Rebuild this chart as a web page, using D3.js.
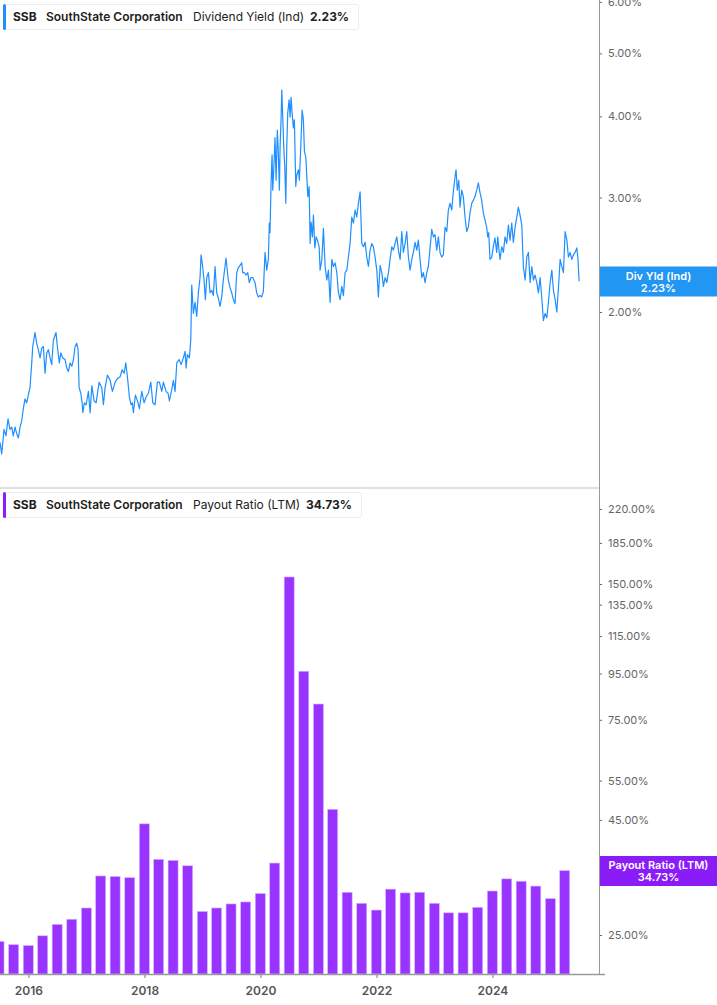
<!DOCTYPE html>
<html>
<head>
<meta charset="utf-8">
<script src="https://cdn.jsdelivr.net/npm/d3@7/dist/d3.min.js"></script>
<style>
  html, body { margin: 0; padding: 0; background: #fff; }
  svg { display: block; font-family: Inter, Roboto, "Noto Sans", sans-serif; }
</style>
</head>
<body>
<div class="chart"></div>
<script>
// dividend yield (ind), %, time as decimal years
const yieldYears = [
  2015.510,2015.539,2015.579,2015.613,2015.648,2015.682,2015.712,2015.739,2015.769,2015.798,2015.826,2015.855,2015.884,2015.912,2015.941,2015.970,2015.998,
  2016.027,2016.057,2016.074,2016.113,2016.143,2016.170,2016.200,2016.229,2016.257,2016.286,2016.315,2016.343,2016.372,2016.401,2016.429,2016.475,2016.498,
  2016.532,2016.557,2016.591,2016.631,2016.660,2016.688,2016.717,2016.746,2016.774,2016.803,2016.832,2016.855,2016.872,2016.901,2016.924,2016.936,2016.963,2016.993,
  2017.032,2017.062,2017.091,2017.131,2017.165,2017.217,2017.263,2017.291,2017.320,2017.360,2017.407,2017.446,2017.493,2017.533,2017.579,2017.613,2017.648,
  2017.677,2017.705,2017.739,2017.769,2017.791,2017.808,2017.843,2017.878,2017.912,2017.953,2017.993,
  2018.027,2018.067,2018.108,2018.143,2018.182,2018.222,2018.257,2018.298,2018.325,2018.372,2018.407,2018.429,2018.470,2018.498,2018.527,2018.557,2018.596,
  2018.631,2018.670,2018.700,2018.717,2018.739,2018.774,2018.798,2018.815,2018.843,2018.872,2018.901,2018.929,2018.958,2018.976,
  2019.005,2019.027,2019.050,2019.074,2019.102,2019.131,2019.160,2019.188,2019.217,2019.246,2019.274,2019.303,2019.332,2019.360,2019.406,2019.446,2019.475,
  2019.505,2019.533,2019.562,2019.591,2019.619,2019.648,2019.677,2019.695,2019.722,2019.751,2019.781,2019.808,2019.838,2019.867,2019.907,2019.936,2019.963,2019.993,
  2020.022,2020.050,2020.079,2020.108,2020.136,2020.153,2020.165,2020.183,2020.200,2020.212,2020.234,2020.251,2020.269,2020.291,2020.308,2020.326,2020.338,
  2020.355,2020.367,2020.384,2020.401,2020.419,2020.436,2020.453,2020.470,2020.493,2020.510,2020.527,2020.544,2020.567,2020.584,2020.608,2020.625,2020.653,
  2020.670,2020.694,2020.717,2020.739,2020.757,2020.781,2020.798,2020.815,2020.838,2020.855,2020.872,2020.894,2020.912,2020.936,2020.958,2020.981,
  2021.010,2021.027,2021.057,2021.084,2021.113,2021.143,2021.170,2021.200,2021.229,2021.257,2021.286,2021.315,2021.343,2021.372,2021.401,2021.429,2021.458,
  2021.488,2021.515,2021.544,2021.573,2021.601,2021.631,2021.660,2021.687,2021.717,2021.746,2021.774,2021.803,2021.832,2021.860,2021.889,2021.919,2021.946,2021.975,
  2022.005,2022.032,2022.062,2022.091,2022.119,2022.148,2022.177,2022.205,2022.234,2022.263,2022.291,2022.320,2022.350,2022.377,2022.407,2022.436,2022.463,
  2022.493,2022.522,2022.550,2022.579,2022.608,2022.636,2022.665,2022.694,2022.722,2022.751,2022.781,2022.808,2022.838,2022.867,2022.894,2022.924,2022.953,2022.981,
  2023.010,2023.039,2023.067,2023.096,2023.125,2023.153,2023.182,2023.212,2023.239,2023.268,2023.298,2023.325,2023.355,2023.372,2023.394,2023.419,2023.441,
  2023.470,2023.498,2023.527,2023.556,2023.584,2023.613,2023.643,2023.670,2023.699,2023.729,2023.757,2023.786,2023.815,2023.843,2023.872,2023.901,2023.919,2023.936,
  2023.958,2023.988,2024.015,2024.044,2024.074,2024.091,2024.113,2024.131,2024.160,2024.188,2024.217,2024.246,2024.274,2024.303,2024.332,2024.360,2024.389,
  2024.419,2024.446,2024.475,2024.505,2024.532,2024.562,2024.591,2024.619,2024.648,2024.677,2024.705,2024.734,2024.763,2024.791,2024.820,2024.849,2024.877,
  2024.906,2024.936,2024.963,2024.993,2025.022,2025.050,2025.079,2025.108,2025.136,2025.165,2025.194,2025.222,2025.251,2025.281,2025.308,2025.337,2025.367,
  2025.394,2025.424,2025.453,2025.470,2025.493
];
const yieldValues = [
  1.26,1.21,1.32,1.29,1.37,1.32,1.33,1.29,1.33,1.30,1.28,1.33,1.36,1.42,1.47,1.45,1.49,
  1.53,1.67,1.77,1.86,1.79,1.75,1.70,1.76,1.77,1.61,1.73,1.75,1.70,1.66,1.81,1.86,1.77,
  1.67,1.73,1.70,1.69,1.64,1.62,1.67,1.65,1.69,1.77,1.79,1.75,1.53,1.50,1.45,1.40,1.45,1.44,
  1.51,1.40,1.54,1.46,1.45,1.56,1.53,1.44,1.53,1.60,1.57,1.51,1.56,1.58,1.59,1.63,1.61,
  1.67,1.59,1.48,1.44,1.45,1.40,1.49,1.46,1.42,1.51,1.45,
  1.48,1.50,1.56,1.45,1.44,1.56,1.56,1.51,1.56,1.51,1.50,1.46,1.52,1.57,1.51,1.67,1.69,
  1.66,1.70,1.74,1.64,1.72,1.70,1.81,2.20,1.99,2.07,1.97,2.14,2.26,2.45,
  2.34,2.24,2.09,2.26,2.30,2.14,2.16,2.12,2.35,2.14,2.10,2.04,2.11,2.24,2.42,2.24,2.18,
  2.14,2.09,2.06,2.30,2.34,2.36,2.38,2.30,2.30,2.28,2.30,2.22,2.26,2.26,2.22,2.14,2.11,2.12,
  2.11,2.15,2.47,2.32,2.41,2.74,2.65,3.16,3.49,3.08,3.39,3.71,3.19,3.81,3.51,3.08,3.59,
  3.95,4.39,3.99,3.59,3.34,2.94,3.59,4.05,4.24,3.99,4.28,4.06,3.84,3.95,3.12,3.25,3.31,
  3.19,3.59,4.09,3.95,3.53,3.46,3.23,3.01,3.12,2.55,2.75,2.61,2.82,2.51,2.61,2.58,
  2.52,2.32,2.41,2.69,2.35,2.24,2.32,2.07,2.41,2.35,2.38,2.30,2.14,2.09,2.19,2.12,2.30,
  2.32,2.43,2.55,2.80,2.74,2.87,2.80,2.94,3.06,2.55,2.52,2.56,2.43,2.35,2.49,2.55,2.52,2.43,
  2.32,2.11,2.36,2.30,2.19,2.26,2.22,2.30,2.41,2.52,2.49,2.55,2.61,2.49,2.41,2.66,2.47,
  2.55,2.66,2.43,2.32,2.41,2.47,2.56,2.49,2.58,2.41,2.26,2.30,2.22,2.30,2.35,2.51,2.68,2.61,
  2.63,2.49,2.61,2.47,2.43,2.45,2.70,2.66,2.87,2.94,2.87,3.06,3.23,3.31,3.08,3.19,2.90,
  3.08,3.01,2.80,2.66,2.70,2.84,2.94,2.97,3.01,3.08,3.16,3.05,2.97,2.84,2.77,2.70,2.61,2.65,
  2.41,2.43,2.52,2.60,2.47,2.61,2.49,2.41,2.52,2.47,2.61,2.55,2.72,2.58,2.74,2.56,2.70,
  2.80,2.90,2.82,2.72,2.35,2.24,2.43,2.47,2.22,2.35,2.24,2.28,2.22,2.14,2.26,2.10,1.94,
  1.99,1.96,2.07,2.22,2.32,2.16,2.09,2.00,2.18,2.41,2.35,2.30,2.66,2.58,2.43,2.47,2.41,
  2.45,2.47,2.51,2.43,2.23
];

// payout ratio (LTM), %, quarterly
const payoutQuarters = [
  '2015-06-30','2015-09-30','2015-12-31',
  '2016-03-31','2016-06-30','2016-09-30','2016-12-31',
  '2017-03-31','2017-06-30','2017-09-30','2017-12-31',
  '2018-03-31','2018-06-30','2018-09-30','2018-12-31',
  '2019-03-31','2019-06-30','2019-09-30','2019-12-31',
  '2020-03-31','2020-06-30','2020-09-30','2020-12-31',
  '2021-03-31','2021-06-30','2021-09-30','2021-12-31',
  '2022-03-31','2022-06-30','2022-09-30','2022-12-31',
  '2023-03-31','2023-06-30','2023-09-30','2023-12-31',
  '2024-03-31','2024-06-30','2024-09-30','2024-12-31',
  '2025-03-31'
];
const payoutValues = [
  24.2,23.8,23.7,
  24.9,26.4,27.1,28.7,
  33.8,33.7,33.5,44.1,
  36.8,36.6,35.6,28.2,
  28.7,29.3,29.6,30.9,
  36.1,155.5,96.1,81.3,
  47.5,31.1,29.4,28.4,
  31.6,31.0,31.1,29.4,
  28.0,28.0,28.8,31.3,
  33.3,32.9,32.1,30.1,
  34.73
];

const yieldTicks = [2, 3, 4, 5, 6];
const payoutTicks = [25, 35, 45, 55, 75, 95, 115, 135, 150, 185, 220];
const xTickYears = [2016, 2018, 2020, 2022, 2024];

const ticker = 'SSB', company = 'SouthState Corporation';
const yieldName = 'Dividend Yield (Ind)', yieldTag = 'Div Yld (Ind)';
const payoutName = 'Payout Ratio (LTM)';

function createGraph() {
  const w = 717, h = 1005;
  const plotRight = 599;
  const topBottom = 487, botTop = 490, botBottom = 974;
  const blue = '#1e8fff', purple = '#9933ff';

  const parseDate = d3.timeParse('%Y-%m-%d');
  function yearToDate(y) {
    const yr = Math.floor(y);
    const a = new Date(yr, 0, 1), b = new Date(yr + 1, 0, 1);
    return new Date(+a + (y - yr) * (b - a));
  }
  const lineData = yieldYears.map((t, i) => ({ date: yearToDate(t), value: yieldValues[i] }));
  const barData = payoutQuarters.map((q, i) => ({ date: parseDate(q), value: payoutValues[i] }));

  const xScale = d3.scaleTime()
    .domain([new Date(2015, 6, 6), new Date(2025, 10, 2)])
    .range([0, plotRight]);

  const yTop = d3.scaleLog().domain([1.0761, 6.04]).range([topBottom, 0]);
  const yBot = d3.scaleLog().domain([20.49, 242.4]).range([botBottom, botTop]);

  const svg = d3.select('.chart').append('svg')
    .attr('width', w)
    .attr('height', h);

  svg.append('clipPath').attr('id', 'clipTop')
    .append('rect').attr('x', 0).attr('y', 0).attr('width', plotRight).attr('height', topBottom);
  svg.append('clipPath').attr('id', 'clipBot')
    .append('rect').attr('x', 0).attr('y', botTop).attr('width', plotRight).attr('height', botBottom - botTop);

  // panel separator
  svg.append('line')
    .attr('x1', 0).attr('x2', plotRight)
    .attr('y1', topBottom + 1).attr('y2', topBottom + 1)
    .attr('stroke', '#e0e0e0').attr('stroke-width', 2);

  // ------- yield line
  const lineFunc = d3.line()
    .x(d => xScale(d.date))
    .y(d => yTop(d.value));

  svg.append('path')
    .attr('clip-path', 'url(#clipTop)')
    .attr('d', lineFunc(lineData))
    .attr('fill', 'none')
    .attr('stroke', blue)
    .attr('stroke-width', 1.2)
    .attr('stroke-linejoin', 'round');

  // ------- payout bars
  const barW = 10;
  svg.append('g').attr('clip-path', 'url(#clipBot)')
    .selectAll('rect')
    .data(barData)
    .enter()
    .append('rect')
      .attr('x', d => xScale(d.date) - barW / 2)
      .attr('y', d => yBot(d.value))
      .attr('width', barW)
      .attr('height', d => botBottom - yBot(d.value))
      .attr('fill', purple)
      .attr('stroke', '#d6b5ff')
      .attr('stroke-width', 0.6);

  // ------- axes
  const pctFmt = v => d3.format('.2f')(v) + '%';

  const yAxisTop = svg.append('g')
    .attr('transform', 'translate(' + plotRight + ',0)')
    .call(d3.axisRight(yTop).tickValues(yieldTicks).tickFormat(pctFmt).tickSize(3).tickPadding(6));
  const yAxisBot = svg.append('g')
    .attr('transform', 'translate(' + plotRight + ',0)')
    .call(d3.axisRight(yBot).tickValues(payoutTicks).tickFormat(pctFmt).tickSize(3).tickPadding(6));
  [yAxisTop, yAxisBot].forEach(g => {
    g.select('.domain').remove();
    g.selectAll('line').attr('stroke', '#666');
    g.selectAll('text')
      .attr('fill', '#666')
      .style('font-size', '11px')
      .style('font-family', 'Inter, Roboto, sans-serif');
  });

  const xAxis = svg.append('g')
    .attr('transform', 'translate(0,' + botBottom + ')')
    .call(d3.axisBottom(xScale)
      .tickValues(xTickYears.map(y => new Date(y, 0, 1)))
      .tickFormat(d3.timeFormat('%Y'))
      .tickSize(4).tickPadding(8));
  xAxis.select('.domain').remove();
  xAxis.selectAll('line').attr('stroke', '#777');
  xAxis.selectAll('text')
    .attr('fill', '#555')
    .style('font-size', '12px')
    .style('font-weight', 600)
    .style('font-family', 'Inter, Roboto, sans-serif');

  // axis frame lines
  svg.append('line')
    .attr('x1', plotRight + 0.5).attr('x2', plotRight + 0.5)
    .attr('y1', 0).attr('y2', botBottom + 1)
    .attr('stroke', '#9a9a9a').attr('stroke-width', 1);
  svg.append('line')
    .attr('x1', 0).attr('x2', plotRight + 6)
    .attr('y1', botBottom + 0.5).attr('y2', botBottom + 0.5)
    .attr('stroke', '#9a9a9a').attr('stroke-width', 1.5);

  // ------- legends
  function legend(y0, color, name, value, boxW) {
    const g = svg.append('g').attr('transform', 'translate(3,' + y0 + ')');
    g.append('rect')
      .attr('x', 0.5).attr('y', 0.5).attr('width', boxW).attr('height', 25).attr('rx', 2)
      .attr('fill', '#fff').attr('stroke', '#ececec');
    g.append('rect')
      .attr('x', 0).attr('y', 0).attr('width', 3).attr('height', 26).attr('rx', 1.5)
      .attr('fill', color);
    const t = g.append('text').attr('y', 17).style('font-size', '12px').attr('fill', '#222');
    t.append('tspan').attr('x', 10).style('font-weight', 700).text(ticker);
    t.append('tspan').attr('x', 43).style('font-weight', 600).text(company);
    t.append('tspan').attr('x', 190).style('font-weight', 400).text(name);
    t.append('tspan').attr('x', value.x).style('font-weight', 700).text(value.text);
  }
  legend(4, blue, yieldName, { x: 307, text: yieldValues[yieldValues.length - 1].toFixed(2) + '%' }, 355);
  legend(492, '#8a1cff', payoutName, { x: 303, text: payoutValues[payoutValues.length - 1].toFixed(2) + '%' }, 358);

  // ------- last value tags
  function tag(yCenter, color, label, value) {
    const g = svg.append('g');
    g.append('rect')
      .attr('x', plotRight + 1).attr('y', yCenter - 15)
      .attr('width', w - plotRight - 1).attr('height', 30)
      .attr('fill', color);
    const cx = plotRight + 1 + (w - plotRight - 1) / 2;
    g.append('text').attr('x', cx).attr('y', yCenter - 2)
      .attr('text-anchor', 'middle').attr('fill', '#fff')
      .style('font-size', '11px').style('font-weight', 600).text(label);
    g.append('text').attr('x', cx).attr('y', yCenter + 10)
      .attr('text-anchor', 'middle').attr('fill', '#fff')
      .style('font-size', '11px').style('font-weight', 600).text(value);
  }
  tag(281.5, '#2196f3', yieldTag, yieldValues[yieldValues.length - 1].toFixed(2) + '%');
  tag(871, '#8a1cf7', payoutName, payoutValues[payoutValues.length - 1].toFixed(2) + '%');
}

createGraph();
</script>
</body>
</html>
